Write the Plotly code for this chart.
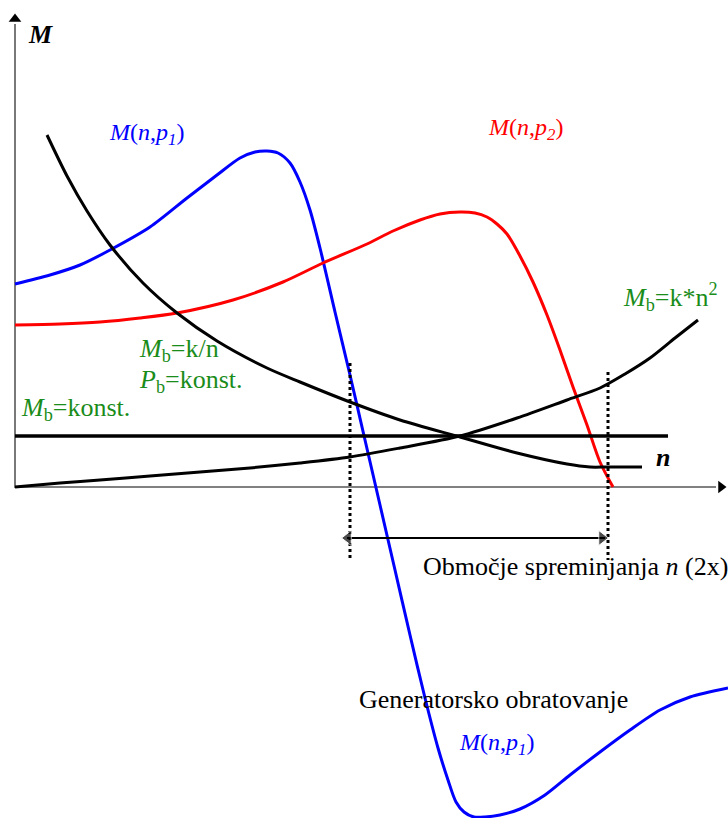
import plotly.graph_objects as go

# Torque-speed characteristics: n = speed, M = torque (arbitrary units)
n_p1 = [0, 35, 65, 95, 135, 172, 202, 225, 240, 252, 263, 275, 285, 295, 305, 320, 335, 350, 365,
        380, 395, 410, 423, 433, 441, 449, 459, 470, 485, 505, 530, 555, 585, 615, 645, 675, 713]
M_p1 = [203, 212, 222, 237, 260, 289, 312, 329, 335, 336, 334, 324, 305, 277, 239, 175, 112, 47, -18,
        -83, -148, -211, -261, -293, -315, -325, -330, -330, -328, -322, -308, -288, -265, -243, -223, -210, -201]

n_p2 = [0, 45, 85, 125, 162, 218, 268, 308, 352, 378, 405, 425, 445, 460, 472, 482, 492, 505,
        518, 532, 545, 558, 572, 585, 598]
M_p2 = [162, 163, 165, 169, 174, 187, 205, 224, 243, 256, 267, 273, 275, 274, 270, 263, 253, 231,
        205, 172, 137, 100, 62, 25, 0]

# load characteristics
n_kn = [32, 52, 72, 95, 128, 162, 202, 252, 285, 335, 385, 445, 502, 552, 575, 592, 627]
M_kn = [352, 311, 276, 242, 204, 174, 146, 119, 105, 85, 67, 50, 34, 23, 20, 20, 20]

n_kn2 = [0, 45, 85, 135, 185, 235, 285, 335, 385, 445, 502, 552, 585, 610, 635, 660, 683]
M_kn2 = [0, 4, 7, 11, 15, 19, 24, 30, 39, 51, 69, 87, 99, 113, 129, 149, 167]

n_const = [0, 653]
M_const = [51, 51]

# speed range boundaries and the span arrow
n_range = [335, 593]
M_range_top = [124, 115]
M_range_bottom = -73
M_span = -51

# axis extents
N_MAX, M_MAX = 713, 487
AX_X_END, AX_Y_END = 701, 463

SERIF = "Liberation Serif, Times New Roman, serif"
GREEN = "#1a8c1a"
SMOOTH = 0.8

fig = go.Figure()

# axes
fig.add_trace(go.Scatter(x=[0, 0], y=[-1, AX_Y_END], mode="lines",
                         line=dict(color="#404040", width=1.4), hoverinfo="skip"))
fig.add_trace(go.Scatter(x=[0, AX_X_END], y=[0, 0], mode="lines",
                         line=dict(color="#808080", width=2), hoverinfo="skip"))
fig.add_trace(go.Scatter(x=[0], y=[AX_Y_END + 5], mode="markers",
                         marker=dict(symbol="triangle-up", size=11, color="black"), hoverinfo="skip"))
fig.add_trace(go.Scatter(x=[AX_X_END + 5], y=[0], mode="markers",
                         marker=dict(symbol="triangle-right", size=11, color="black"), hoverinfo="skip"))

# characteristics
fig.add_trace(go.Scatter(x=n_p1, y=M_p1, mode="lines",
                         line=dict(color="#0000ff", width=3, shape="spline", smoothing=SMOOTH)))
fig.add_trace(go.Scatter(x=n_p2, y=M_p2, mode="lines",
                         line=dict(color="#ff0000", width=3, shape="spline", smoothing=SMOOTH)))
fig.add_trace(go.Scatter(x=n_kn, y=M_kn, mode="lines",
                         line=dict(color="black", width=3, shape="spline", smoothing=SMOOTH)))
fig.add_trace(go.Scatter(x=n_kn2, y=M_kn2, mode="lines",
                         line=dict(color="black", width=3, shape="spline", smoothing=SMOOTH)))
fig.add_trace(go.Scatter(x=n_const, y=M_const, mode="lines",
                         line=dict(color="black", width=3.5)))

# speed range limits (dotted)
for nx, mt in zip(n_range, M_range_top):
    fig.add_trace(go.Scatter(x=[nx, nx], y=[mt, M_range_bottom], mode="lines",
                             line=dict(color="black", width=3, dash="dot"), hoverinfo="skip"))

# double-headed span arrow
fig.add_trace(go.Scatter(x=[n_range[0] - 3, n_range[1] - 3], y=[M_span, M_span], mode="lines",
                         line=dict(color="black", width=1.8), hoverinfo="skip"))
fig.add_trace(go.Scatter(x=[n_range[0] - 2, n_range[1] - 6], y=[M_span, M_span], mode="markers",
                         marker=dict(symbol=["triangle-left", "triangle-right"], size=[13, 13],
                                     color="black"), hoverinfo="skip"))


def label(txt, x, y, color="black", size=26):
    fig.add_annotation(x=x, y=y, text=txt, showarrow=False, xanchor="left", yanchor="middle",
                       font=dict(family=SERIF, size=size, color=color))


label("<b><i>M</i></b>", 11, 453, size=26)
label("<b><i>n</i></b>", 639, 30, size=26)
label("<i>M</i>(<i>n</i>,<i>p<sub>1</sub></i>)", 92, 353, color="#0000ff", size=24)
label("<i>M</i>(<i>n</i>,<i>p<sub>2</sub></i>)", 471, 358, color="#ff0000", size=24)
label("<i>M</i><sub>b</sub>=k/n", 122, 137, color=GREEN)
label("<i>P</i><sub>b</sub>=konst.", 122, 106, color=GREEN)
label("<i>M</i><sub>b</sub>=konst.", 4, 78, color=GREEN)
label("<i>M</i><sub>b</sub>=k*n<sup>2</sup>", 606, 190, color=GREEN)
label("Območje spreminjanja <i>n</i> (2x)", 406, -79)
label("Generatorsko obratovanje", 342, -212)
label("<i>M</i>(<i>n</i>,<i>p<sub>1</sub></i>)", 442, -257, color="#0000ff", size=24)

fig.update_layout(
    width=728, height=818,
    margin=dict(l=0, r=0, t=0, b=0),
    paper_bgcolor="white", plot_bgcolor="white",
    showlegend=False,
    xaxis=dict(visible=False, range=[-15, N_MAX]),
    yaxis=dict(visible=False, range=[-331, M_MAX]),
)

fig.write_html("out.html")
